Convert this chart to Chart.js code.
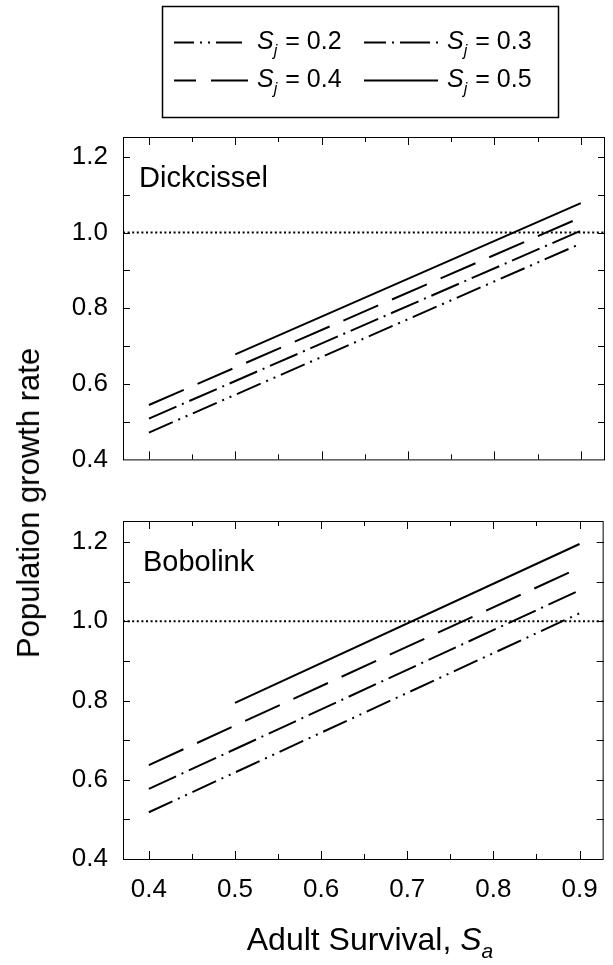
<!DOCTYPE html>
<html>
<head>
<meta charset="utf-8">
<script src="https://cdn.jsdelivr.net/npm/chart.js@4.4.0/dist/chart.umd.min.js"></script>
<style>
  body { margin: 0; background: #fff; }
  #wrap { position: relative; width: 613px; height: 965px; font-family: "Liberation Sans", Arial, sans-serif; color: #000; }
  canvas { position: absolute; left: 0; }
  #top { top: 0; }
  #bottom { top: 490px; }
  .title { position: absolute; white-space: nowrap; font-size: 31px; }
  #ytitle { left: 29px; top: 503px; transform: translate(-50%, -50%) rotate(-90deg); }
  #xtitle { left: 370px; top: 942px; transform: translate(-50%, -50%); font-size: 32px; }
  sub { font-size: 21px; vertical-align: -8px; }
</style>
</head>
<body>
<div id="wrap">
  <canvas id="top" width="613" height="490"></canvas>
  <canvas id="bottom" width="613" height="475"></canvas>
  <div class="title" id="ytitle">Population growth rate</div>
  <div class="title" id="xtitle">Adult Survival, <i>S</i><sub><i>a</i></sub></div>
</div>
<script>
// juvenile survival levels (one line each)
var sjLabels = ['0.2', '0.3', '0.4', '0.5'];

// adult survival at the ends of each line
var saDashed = [0.4, 0.9];
var saSolid = [0.5, 0.9];

// Dickcissel
var dickSj02 = [0.471, 0.971];
var dickSj03 = [0.508, 1.005];
var dickSj04 = [0.544, 1.040];
var dickSj05 = [0.678, 1.078];

// Bobolink
var boboSj02 = [0.518, 1.020];
var boboSj03 = [0.577, 1.078];
var boboSj04 = [0.637, 1.135];
var boboSj05 = [0.794, 1.195];

// axes
var xMin = 0.37, xMax = 0.928;
var yMin = 0.4, yMax = 1.253;
var xTickLabels = [0.4, 0.5, 0.6, 0.7, 0.8, 0.9];
var xTickMinor = [0.45, 0.55, 0.65, 0.75, 0.85];
var yTickLabels = [0.4, 0.6, 0.8, 1.0, 1.2];
var yTickMarks = [0.5, 0.6, 0.7, 0.8, 0.9, 1.0, 1.1, 1.2];
var refLine = 1.0;

var FONT = '"Liberation Sans", Arial, sans-serif';

// line styles for Sj = 0.2, 0.3, 0.4, 0.5
var dashes = [[26, 6, 2, 6, 2, 6], [30, 6, 2, 6], [38, 15], []];
var legendOffsets = [6, 8, 16, 0];

function toPoints(xs, ys) {
    return xs.map(function (x, k) { return {x: x, y: ys[k]}; });
}

function makeDatasets(s02, s03, s04, s05) {
    var series = [
        toPoints(saDashed, s02),
        toPoints(saDashed, s03),
        toPoints(saDashed, s04),
        toPoints(saSolid, s05)
    ];
    var sets = series.map(function (pts, i) {
        return {
            label: 'Sj = ' + sjLabels[i],
            data: pts,
            borderColor: '#000',
            borderWidth: 2,
            borderDash: dashes[i],
            borderCapStyle: 'butt',
            pointRadius: 0,
            showLine: true,
            fill: false
        };
    });
    // horizontal reference line at lambda = 1
    sets.push({
        label: 'ref',
        data: [{x: xMin, y: refLine}, {x: xMax, y: refLine}],
        borderColor: '#000',
        borderWidth: 2,
        borderDash: [2, 2.6],
        pointRadius: 0,
        showLine: true,
        fill: false
    });
    return sets;
}

// draws the frame, inward ticks, panel name and (top panel) the legend
var framePlugin = {
    id: 'framePlugin',
    afterDraw: function (chart, args, opts) {
        var ctx = chart.ctx;
        var a = chart.chartArea;
        var x = chart.scales.x, y = chart.scales.y;
        ctx.save();
        ctx.strokeStyle = '#000';
        ctx.lineWidth = 1;
        ctx.setLineDash([]);
        ctx.strokeRect(a.left + 0.5, a.top + 0.5, a.right - a.left - 1, a.bottom - a.top);

        ctx.beginPath();
        xTickLabels.concat(xTickMinor).forEach(function (v) {
            var px = Math.round(x.getPixelForValue(v)) + 0.5;
            var len = xTickMinor.indexOf(v) >= 0 ? 5 : 8;
            ctx.moveTo(px, a.bottom); ctx.lineTo(px, a.bottom - len);
            ctx.moveTo(px, a.top); ctx.lineTo(px, a.top + len);
        });
        yTickMarks.forEach(function (v) {
            var py = Math.round(y.getPixelForValue(v)) + 0.5;
            ctx.moveTo(a.left, py); ctx.lineTo(a.left + 7, py);
            ctx.moveTo(a.right, py); ctx.lineTo(a.right - 7, py);
        });
        ctx.stroke();

        ctx.fillStyle = '#000';
        ctx.font = '29px ' + FONT;
        ctx.textBaseline = 'middle';
        ctx.textAlign = 'left';
        ctx.fillText(opts.name, a.left + opts.nameX, a.top + 42);

        if (opts.legend) drawLegend(ctx);
        ctx.restore();
    }
};

function drawLegend(ctx) {
    ctx.lineWidth = 1.5;
    ctx.strokeRect(162.5, 6.5, 396, 111);
    var spots = [[174, 42], [364, 42], [174, 80], [364, 80]];
    spots.forEach(function (p, i) {
        ctx.lineWidth = 2;
        ctx.setLineDash(dashes[i]);
        ctx.lineDashOffset = legendOffsets[i];
        ctx.beginPath();
        ctx.moveTo(p[0], p[1] + 0.5);
        ctx.lineTo(p[0] + 74, p[1] + 0.5);
        ctx.stroke();
        ctx.setLineDash([]);
        ctx.lineDashOffset = 0;

        var tx = p[0] + 83;
        ctx.textBaseline = 'middle';
        ctx.font = 'italic 25px ' + FONT;
        ctx.fillText('S', tx, p[1]);
        tx += ctx.measureText('S').width;
        ctx.font = 'italic 16px ' + FONT;
        ctx.fillText('j', tx, p[1] + 10);
        tx += ctx.measureText('j').width + 8;
        ctx.font = '25px ' + FONT;
        ctx.fillText('=', tx, p[1]);
        tx += ctx.measureText('=').width + 7;
        ctx.fillText(sjLabels[i], tx, p[1]);
    });
}

function makeChart(id, datasets, showX, opts) {
    return new Chart(document.getElementById(id), {
        type: 'scatter',
        data: {datasets: datasets},
        options: {
            responsive: false,
            animation: false,
            events: [],
            layout: {padding: opts.padding},
            plugins: {
                legend: {display: false},
                tooltip: {enabled: false},
                framePlugin: {name: opts.name, nameX: opts.nameX, legend: opts.legend}
            },
            scales: {
                x: {
                    type: 'linear', min: xMin, max: xMax, display: showX,
                    grid: {display: false, drawTicks: false},
                    border: {display: false},
                    afterBuildTicks: function (s) { s.ticks = xTickLabels.map(function (v) { return {value: v}; }); },
                    afterFit: function (s) { s.height = opts.xHeight; },
                    ticks: {
                        padding: 15, color: '#000', maxRotation: 0,
                        font: {family: FONT, size: 26},
                        callback: function (v) { return v.toFixed(1); }
                    }
                },
                y: {
                    type: 'linear', min: yMin, max: yMax,
                    grid: {display: false, drawTicks: false},
                    border: {display: false},
                    afterBuildTicks: function (s) { s.ticks = yTickLabels.map(function (v) { return {value: v}; }); },
                    afterFit: function (s) { s.width = 123; },
                    ticks: {
                        padding: 15, color: '#000',
                        font: {family: FONT, size: 26},
                        callback: function (v) { return v.toFixed(1); }
                    }
                }
            }
        },
        plugins: [framePlugin]
    });
}

makeChart('top', makeDatasets(dickSj02, dickSj03, dickSj04, dickSj05), false, {
    padding: {top: 137, bottom: 14, left: 0, right: 8},
    name: 'Dickcissel', nameX: 16, legend: true, xHeight: 0
});
makeChart('bottom', makeDatasets(boboSj02, boboSj03, boboSj04, boboSj05), true, {
    padding: {top: 31, bottom: 0, left: 0, right: 8},
    name: 'Bobolink', nameX: 20, legend: false, xHeight: 106
});
</script>
</body>
</html>
